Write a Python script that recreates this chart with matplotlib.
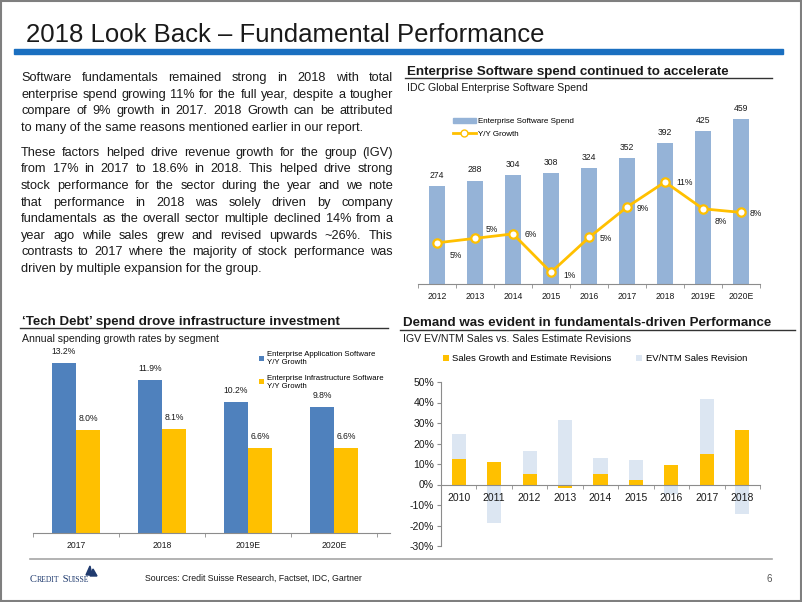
import matplotlib
import matplotlib.pyplot as plt
from matplotlib.lines import Line2D
from matplotlib.patches import Patch, Polygon, Rectangle

matplotlib.use("Agg")

plt.rcParams["font.family"] = ["Liberation Sans", "DejaVu Sans"]

# Data
spend_years = ["2012", "2013", "2014", "2015", "2016", "2017", "2018", "2019E", "2020E"]
spend_values = [274, 288, 304, 308, 324, 352, 392, 425, 459]
spend_growth = [4.6, 5.1, 5.6, 1.3, 5.2, 8.6, 11.4, 8.4, 8.0]
spend_growth_labels = ["5%", "5%", "6%", "1%", "5%", "9%", "11%", "8%", "8%"]

segment_years = ["2017", "2018", "2019E", "2020E"]
app_growth = [13.2, 11.9, 10.2, 9.8]
infra_growth = [8.0, 8.1, 6.6, 6.6]

igv_years = ["2010", "2011", "2012", "2013", "2014", "2015", "2016", "2017", "2018"]
sales_revisions = [12.5, 10.9, 5.2, -1.8, 5.0, 2.3, 9.3, 14.7, 26.4]
multiple_revisions = [24.5, -18.7, 16.2, 31.7, 12.9, 11.8, -4.5, 41.9, -14.2]

para_1 = [
    "Software fundamentals remained strong in 2018 with total",
    "enterprise spend growing 11% for the full year, despite a tougher",
    "compare of 9% growth in 2017. 2018 Growth can be attributed",
    "to many of the same reasons mentioned earlier in our report.",
]
para_2 = [
    "These factors helped drive revenue growth for the group (IGV)",
    "from 17% in 2017 to 18.6% in 2018. This helped drive strong",
    "stock performance for the sector during the year and we note",
    "that performance in 2018 was solely driven by company",
    "fundamentals as the overall sector multiple declined 14% from a",
    "year ago while sales grew and revised upwards ~26%. This",
    "contrasts to 2017 where the majority of stock performance was",
    "driven by multiple expansion for the group.",
]

# Look
BAR_BLUE = "#4F81BD"
LIGHT_BLUE = "#95B3D7"
PALE_BLUE = "#DCE6F2"
GOLD = "#FFC000"
TEXT = "#1a1a1a"
AXIS_GREY = "#8c8c8c"

W, H = 802, 602


def fx(x):
    return x / W


def fy(y):
    return 1 - y / H


def box(x0, y0, x1, y1):
    return [fx(x0), fy(y1), (x1 - x0) / W, (y1 - y0) / H]


fig = plt.figure(figsize=(W / 100, H / 100), dpi=100)
fig.patch.set_facecolor("white")
renderer = fig.canvas.get_renderer()


def hline(x0, x1, y, color, lw):
    fig.add_artist(Line2D([fx(x0), fx(x1)], [fy(y), fy(y)], color=color, lw=lw,
                          transform=fig.transFigure))


def text_line(x0, x1, y, line, justify, **kw):
    if not justify:
        fig.text(fx(x0), fy(y), line, va="baseline", ha="left", **kw)
        return
    words = line.split()
    items = [fig.text(fx(x0), fy(y), w, va="baseline", ha="left", **kw) for w in words]
    widths = [t.get_window_extent(renderer).width for t in items]
    gap = (x1 - x0 - sum(widths)) / (len(words) - 1)
    x = x0
    for t, w in zip(items, widths):
        t.set_x(fx(x))
        x += w + gap


def runs(x, y, parts, **kw):
    for s, size in parts:
        t = fig.text(fx(x), fy(y), s, va="baseline", ha="left", fontsize=size, **kw)
        x += t.get_window_extent(renderer).width


# Slide frame, title
fig.add_artist(Rectangle((0.001, 0.001), 0.998, 0.998, fill=False, edgecolor="#7f7f7f",
                         lw=1.5, transform=fig.transFigure))
fig.text(fx(26), fy(42), "2018 Look Back \u2013 Fundamental Performance", fontsize=18.5,
         color=TEXT, va="baseline", ha="left")
fig.add_artist(Rectangle((fx(14), fy(54)), (783 - 14) / W, 5 / H, color="#1A6FC0",
                         transform=fig.transFigure))

# Body text: size chosen so the tightest line just fills the column
probe = fig.text(0, 0, para_1[1], fontsize=10)
body_size = 10 * 366 / probe.get_window_extent(renderer).width
probe.remove()

y = 81
for i, line in enumerate(para_1):
    text_line(21, 393, y, line, i < len(para_1) - 1, fontsize=body_size, color=TEXT)
    y += 16.6
y += 8.5
for i, line in enumerate(para_2):
    text_line(21, 393, y, line, i < len(para_2) - 1, fontsize=body_size, color=TEXT)
    y += 16.6

# Section headers
head_kw = dict(fontsize=9.6, fontweight="bold", color=TEXT, va="baseline")
sub_kw = dict(fontsize=7.6, color=TEXT, va="baseline")
fig.text(fx(407), fy(75), "Enterprise Software spend continued to accelerate", **head_kw)
hline(405, 772, 77.5, "#333333", 1.0)
fig.text(fx(407), fy(91), "IDC Global Enterprise Software Spend", **sub_kw)

fig.text(fx(22), fy(325), "\u2018Tech Debt\u2019 spend drove infrastructure investment", **head_kw)
hline(20, 388, 328, "#333333", 1.0)
fig.text(fx(22), fy(342), "Annual spending growth rates by segment", **sub_kw)

fig.text(fx(403), fy(326), "Demand was evident in fundamentals-driven Performance", **head_kw)
hline(400, 795, 330, "#333333", 1.0)
fig.text(fx(403), fy(342), "IGV EV/NTM Sales vs. Sales Estimate Revisions", **sub_kw)

# Chart 1: enterprise software spend
ax1 = fig.add_axes(box(418, 100, 760, 284))
xs = range(len(spend_years))
ax1.bar(xs, spend_values, width=0.4, color=LIGHT_BLUE, zorder=2)
for x, v in zip(xs, spend_values):
    ax1.annotate(str(v), (x, v), xytext=(0, 6), textcoords="offset pixels", ha="center",
                 va="bottom", fontsize=6.2, color=TEXT)
ax1.set_xlim(-0.5, len(spend_years) - 0.5)
ax1.set_ylim(0, 512)
ax1.set_yticks([])
for s in ["top", "right", "left"]:
    ax1.spines[s].set_visible(False)
ax1.spines["bottom"].set_color(AXIS_GREY)
ax1.set_xticks(list(xs))
ax1.set_xticklabels(spend_years, fontsize=6.2, color=TEXT)
ax1.tick_params(axis="x", which="major", length=0, pad=6)
ax1.set_xticks([x - 0.5 for x in range(len(spend_years) + 1)], minor=True)
ax1.tick_params(axis="x", which="minor", length=3, color=AXIS_GREY)

ax1b = ax1.twinx()
ax1b.plot(xs, spend_growth, color=GOLD, lw=2, marker="o", markersize=6,
          markerfacecolor="white", markeredgecolor=GOLD, markeredgewidth=1.6, zorder=3)
growth_offsets = [(13, -13), (11, 9), (12, -1), (12, -3), (11, -1), (10, -1), (11, -1),
                  (12, -13), (9, -1)]
for x, v, lab, off in zip(xs, spend_growth, spend_growth_labels, growth_offsets):
    ax1b.annotate(lab, (x, v), xytext=off, textcoords="offset pixels", ha="left",
                  va="center", fontsize=6.2, color=TEXT)
ax1b.set_ylim(0, 20.56)
ax1b.set_yticks([])
for s in ["top", "right", "left", "bottom"]:
    ax1b.spines[s].set_visible(False)

handles1 = [Patch(color=LIGHT_BLUE),
            Line2D([], [], color=GOLD, lw=2, marker="o", markersize=5,
                   markerfacecolor="white", markeredgecolor=GOLD)]
ax1.legend(handles1, ["Enterprise Software Spend", "Y/Y Growth"], loc="upper left",
           bbox_to_anchor=(fx(453), fy(118)), bbox_transform=fig.transFigure,
           frameon=False, fontsize=5.8, handlelength=2.8, handleheight=0.6,
           handletextpad=0.3, labelspacing=0.6, borderpad=0, borderaxespad=0)

# Chart 2: segment growth
ax2 = fig.add_axes(box(33, 345, 390, 533))
xs2 = range(len(segment_years))
bw = 0.28
ax2.bar([x - bw / 2 for x in xs2], app_growth, width=bw, color=BAR_BLUE, zorder=2,
        label="Enterprise Application Software\nY/Y Growth")
ax2.bar([x + bw / 2 for x in xs2], infra_growth, width=bw, color=GOLD, zorder=2,
        label="Enterprise Infrastructure Software\nY/Y Growth")
for x, a, b in zip(xs2, app_growth, infra_growth):
    ax2.annotate(f"{a:.1f}%", (x - bw / 2, a), xytext=(0, 7), textcoords="offset pixels",
                 ha="center", va="bottom", fontsize=6.2, color=TEXT)
    ax2.annotate(f"{b:.1f}%", (x + bw / 2, b), xytext=(0, 7), textcoords="offset pixels",
                 ha="center", va="bottom", fontsize=6.2, color=TEXT)
ax2.set_xlim(-0.5, 3.65)
ax2.set_ylim(0, 14.6)
ax2.set_yticks([])
for s in ["top", "right", "left"]:
    ax2.spines[s].set_visible(False)
ax2.spines["bottom"].set_color(AXIS_GREY)
ax2.set_xticks(list(xs2))
ax2.set_xticklabels(segment_years, fontsize=6.2, color=TEXT)
ax2.tick_params(axis="x", which="major", length=0, pad=6)
ax2.set_xticks([x - 0.5 for x in range(len(segment_years) + 1)], minor=True)
ax2.tick_params(axis="x", which="minor", length=3, color=AXIS_GREY)
ax2.legend(loc="upper left", bbox_to_anchor=(fx(259), fy(351)), bbox_transform=fig.transFigure,
           frameon=False, fontsize=5.6, handlelength=0.6, handleheight=0.6,
           handletextpad=0.4, labelspacing=1.1, borderpad=0, borderaxespad=0)

# Chart 3: IGV revisions
ax3 = fig.add_axes(box(441, 382, 760, 546))
xs3 = range(len(igv_years))
ax3.bar(xs3, multiple_revisions, width=0.4, color=PALE_BLUE, zorder=1,
        label="EV/NTM Sales Revision")
ax3.bar(xs3, sales_revisions, width=0.4, color=GOLD, zorder=2,
        label="Sales Growth and Estimate Revisions")
ax3.set_xlim(-0.5, len(igv_years) - 0.5)
ax3.set_ylim(-30, 50)
ax3.set_yticks(range(-30, 51, 10))
ax3.set_yticklabels([f"{v}%" for v in range(-30, 51, 10)], fontsize=7.5, color=TEXT)
ax3.tick_params(axis="y", length=3, color=AXIS_GREY, pad=2)
for s in ["top", "right"]:
    ax3.spines[s].set_visible(False)
ax3.spines["left"].set_color(AXIS_GREY)
ax3.spines["bottom"].set_color(AXIS_GREY)
ax3.spines["bottom"].set_position(("data", 0))
ax3.spines["bottom"].set_zorder(3)
ax3.set_xticks(list(xs3))
ax3.set_xticklabels(igv_years, fontsize=7.5, color=TEXT)
ax3.tick_params(axis="x", which="major", length=0, pad=6)
ax3.set_xticks([x + 0.5 for x in range(len(igv_years))], minor=True)
ax3.tick_params(axis="x", which="minor", length=3, color=AXIS_GREY)
h3, l3 = ax3.get_legend_handles_labels()
ax3.legend(h3[::-1], l3[::-1], loc="upper left", ncol=2, bbox_to_anchor=(fx(443), fy(354)),
           bbox_transform=fig.transFigure, frameon=False, fontsize=6.8, handlelength=0.6,
           handleheight=0.6, handletextpad=0.4, columnspacing=2.6, borderpad=0,
           borderaxespad=0)

# Footer
hline(30, 772, 559, "#a6a6a6", 1.2)
runs(30, 582, [("C", 7.5), ("REDIT", 5.6), (" S", 7.5), ("UISSE", 5.6)],
     family="Liberation Serif", color="#1F3A6E")
fig.add_artist(Polygon([(fx(86), fy(575)), (fx(90), fy(566)), (fx(92), fy(575))],
                       color="#1F3A6E", transform=fig.transFigure))
fig.add_artist(Polygon([(fx(90), fy(576)), (fx(93), fy(569)), (fx(97), fy(576))],
                       color="#1F3A6E", transform=fig.transFigure))
fig.text(fx(145), fy(581), "Sources: Credit Suisse Research, Factset, IDC, Gartner", fontsize=6.3,
         color=TEXT, va="baseline")
fig.text(fx(772), fy(582), "6", fontsize=7, color="#555555", va="baseline", ha="right")

fig.savefig("out.png", dpi=100)
